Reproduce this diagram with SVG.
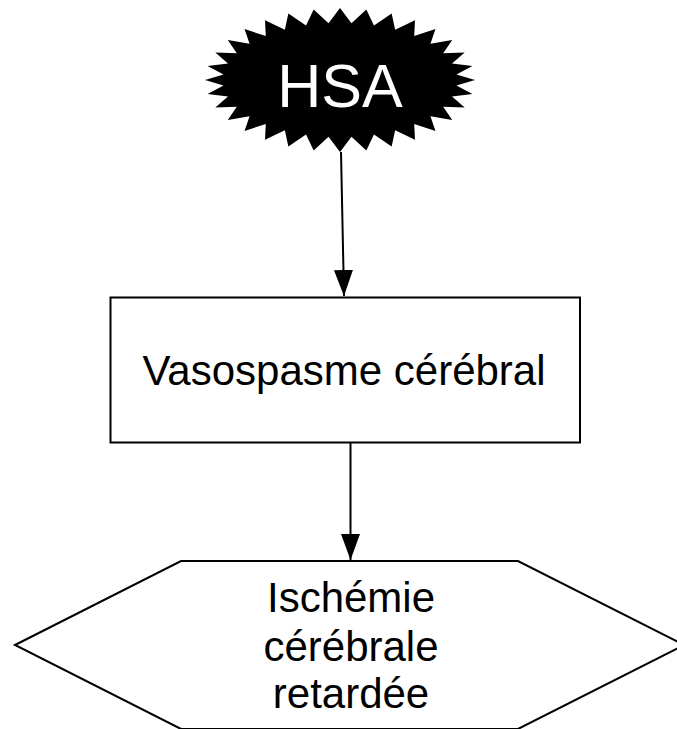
<svg xmlns="http://www.w3.org/2000/svg" width="677" height="729" viewBox="0 0 677 729">
<style>
.lbl{font-family:"Liberation Sans",Arial,sans-serif;font-size:42px;fill:#000;text-anchor:middle}
.shape{fill:#fff;stroke:#000;stroke-width:2}
.edge{stroke:#000;stroke-width:2;fill:none}
</style>
<defs>
<marker id="ah" markerUnits="userSpaceOnUse" markerWidth="26" markerHeight="20" refX="26" refY="9.5" orient="auto">
<path d="M0,0 L26,9.5 L0,19 z" fill="#000"/>
</marker>
</defs>
<rect width="677" height="729" fill="#fff"/>
<g id="hsa">
<polygon fill="#000" points="475,80 456.44,74.41 472.41,65.95 451.96,63.45 464.72,52.45 443.18,53.13 452.25,40 430.44,43.84 435.46,29.09 414.22,35.94 415,20.13 395.15,29.73 391.66,13.48 373.96,25.45 366.34,9.38 351.47,23.27 340,8 328.53,23.27 313.66,9.38 306.04,25.45 288.34,13.48 284.85,29.73 265,20.13 265.78,35.94 244.54,29.09 249.56,43.84 227.75,40 236.82,53.13 215.28,52.45 228.04,63.45 207.59,65.95 223.56,74.41 205,80 223.56,85.59 207.59,94.05 228.04,96.55 215.28,107.55 236.82,106.87 227.75,120 249.56,116.16 244.54,130.91 265.78,124.06 265,139.87 284.85,130.27 288.34,146.52 306.04,134.55 313.66,150.62 328.53,136.73 340,152 351.47,136.73 366.34,150.62 373.96,134.55 391.66,146.52 395.15,130.27 415,139.87 414.22,124.06 435.46,130.91 430.44,116.16 452.25,120 443.18,106.87 464.72,107.55 451.96,96.55 472.41,94.05 456.44,85.59"/>
<text x="340" y="107" font-family="Liberation Sans,Arial,sans-serif" font-size="61" fill="#fff" text-anchor="middle">HSA</text>
</g>
<g id="vasospasme">
<rect class="shape" x="110.5" y="297.5" width="469.5" height="145"/>
<text class="lbl" x="344" y="385">Vasospasme cérébral</text>
</g>
<g id="ischemie">
<polygon class="shape" points="15,645 181,561 518,561 684,645 518,729 181,729"/>
<text class="lbl" x="351" y="612">Ischémie</text>
<text class="lbl" x="351" y="661">cérébrale</text>
<text class="lbl" x="351" y="708">retardée</text>
</g>
<g id="connectors">
<line class="edge" x1="341" y1="152" x2="344" y2="296" marker-end="url(#ah)"/>
<line class="edge" x1="350.5" y1="443" x2="350.5" y2="560" marker-end="url(#ah)"/>
</g>
</svg>
